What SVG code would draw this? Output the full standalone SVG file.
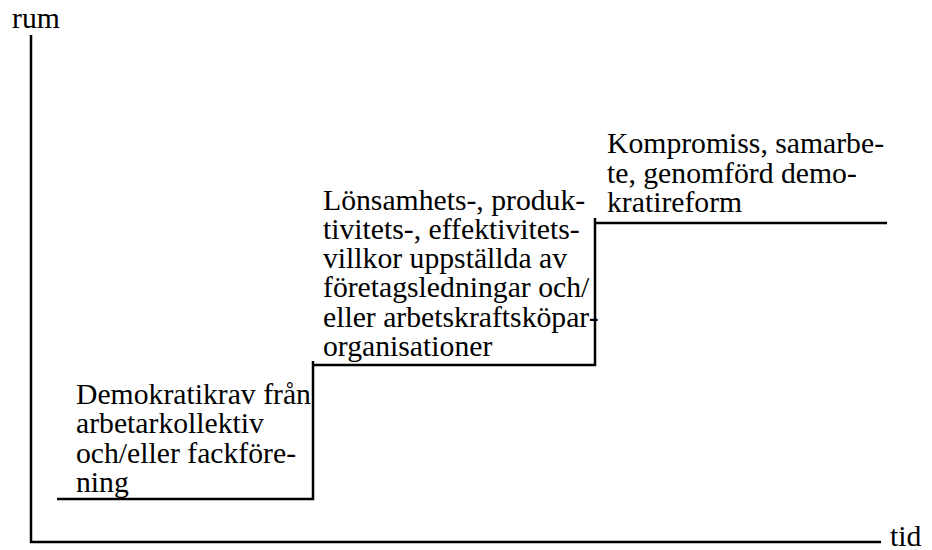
<svg xmlns="http://www.w3.org/2000/svg" width="932" height="550" viewBox="0 0 932 550">
<style>
text{font-family:'Liberation Serif','Times New Roman',serif;font-size:29.7px;fill:#000}
.ln{fill:none;stroke:#000;stroke-width:2.5}
</style>
<rect width="932" height="550" fill="#fff"/>
<g id="axes">
<path class="ln" d="M31 35 V542 H881"/>
<text x="12" y="28">rum</text>
<text x="890" y="546">tid</text>
</g>
<g id="connectors">
<path class="ln" d="M57 499 H313 V361 M313 365 H595 V218 M595 223 H887"/>
</g>
<g id="node1">
<text x="76" y="404">Demokratikrav från</text>
<text x="76" y="433">arbetarkollektiv</text>
<text x="76" y="463">och/eller fackföre-</text>
<text x="76" y="492">ning</text>
</g>
<g id="node2">
<text x="323" y="210">Lönsamhets-, produk-</text>
<text x="323" y="239">tivitets-, effektivitets-</text>
<text x="323" y="268">villkor uppställda av</text>
<text x="323" y="297">företagsledningar och/</text>
<text x="323" y="327">eller arbetskraftsköpar-</text>
<text x="323" y="356">organisationer</text>
</g>
<g id="node3">
<text x="607" y="153">Kompromiss, samarbe-</text>
<text x="607" y="183">te, genomförd demo-</text>
<text x="607" y="212">kratireform</text>
</g>
</svg>
